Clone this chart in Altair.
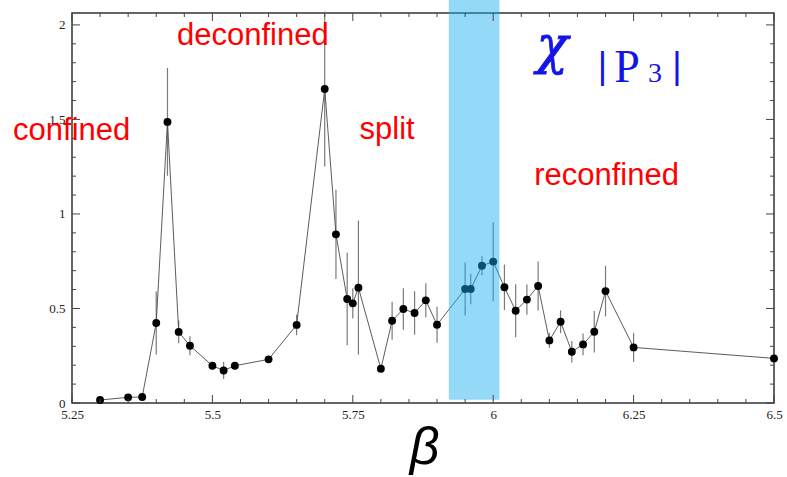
import altair as alt
import pandas as pd

# Measured susceptibility of |P3| versus the coupling beta
beta = [5.30, 5.35, 5.375, 5.40, 5.42, 5.44, 5.46, 5.50, 5.52, 5.54, 5.60, 5.65,
        5.70, 5.72, 5.74, 5.75, 5.76, 5.80, 5.82, 5.84, 5.86, 5.88, 5.90, 5.95,
        5.96, 5.98, 6.00, 6.02, 6.04, 6.06, 6.08, 6.10, 6.12, 6.14, 6.16, 6.18,
        6.20, 6.25, 6.50]
chi = [0.016, 0.030, 0.032, 0.423, 1.487, 0.376, 0.303, 0.197, 0.172, 0.197, 0.231, 0.413,
       1.661, 0.892, 0.550, 0.527, 0.610, 0.181, 0.435, 0.497, 0.476, 0.543, 0.414, 0.603,
       0.603, 0.726, 0.748, 0.612, 0.488, 0.547, 0.619, 0.331, 0.430, 0.271, 0.310, 0.377,
       0.592, 0.294, 0.236]
err = [0.006, 0.010, 0.010, 0.167, 0.285, 0.060, 0.050, 0.020, 0.045, 0.020, 0.015, 0.055,
       0.410, 0.236, 0.245, 0.080, 0.355, 0.015, 0.100, 0.110, 0.115, 0.090, 0.095, 0.140,
       0.080, 0.050, 0.210, 0.120, 0.140, 0.080, 0.130, 0.040, 0.060, 0.057, 0.058, 0.110,
       0.134, 0.077, 0.020]

# Highlighted beta window
band_beta = [5.921, 6.011]
band_chi = [0.017, 2.135]

# Axis ticks
x_major = [5.25, 5.5, 5.75, 6.0, 6.25, 6.5]
x_minor = [round(5.25 + 0.05 * i, 2) for i in range(26) if i % 5 != 0]
y_major = [0.0, 0.5, 1.0, 1.5, 2.0]
y_minor = [round(0.1 * i, 1) for i in range(1, 21) if i % 5 != 0]

# Phase annotations
phase_text = ["confined", "deconfined", "split", "reconfined"]
phase_x = [5.145, 5.437, 5.762, 6.073]
phase_y = [1.392, 1.894, 1.397, 1.153]

W, H = 702, 390
xs = alt.Scale(domain=[5.25, 6.5], nice=False, zero=False)
ys = alt.Scale(domain=[0, 2.063], nice=False, zero=False)
# one shared axis definition for every layer, so the layers merge into one axis pair
xa = alt.Axis(values=x_major, labelExpr="'' + datum.value", title="β")
ya = alt.Axis(values=y_major, labelExpr="'' + datum.value", title=None)


def X(field):
    return alt.X(field, scale=xs, axis=xa)


def Y(field):
    return alt.Y(field, scale=ys, axis=ya)


df = pd.DataFrame({"beta": beta, "chi": chi, "err": err})
df["lo"] = df["chi"] - df["err"]
df["hi"] = df["chi"] + df["err"]

base = alt.Chart(df)

errbars = base.mark_rule(color="#7a7a7a", strokeWidth=1.2).encode(
    x=X("beta:Q"), y=Y("lo:Q"), y2="hi:Q",
)
line = base.mark_line(color="#4a4a4a", strokeWidth=0.9).encode(
    x=X("beta:Q"), y=Y("chi:Q"),
)
points = base.mark_circle(color="black", opacity=1, size=62).encode(
    x=X("beta:Q"), y=Y("chi:Q"),
)

band = alt.Chart(pd.DataFrame({"b0": [band_beta[0]], "b1": [band_beta[1]],
                               "c0": [band_chi[0]], "c1": [band_chi[1]]})).mark_rect(
    color="#16acef", opacity=0.46, clip=False
).encode(
    x=X("b0:Q"), x2="b1:Q", y=Y("c0:Q"), y2="c1:Q",
)


def xticks(vals, length):
    d = alt.Chart(pd.DataFrame({"t": vals}))
    bottom = d.mark_rule(color="#444", strokeWidth=1).encode(
        x=X("t:Q"), y=alt.value(H), y2=alt.value(H - length))
    top = d.mark_rule(color="#444", strokeWidth=1).encode(
        x=X("t:Q"), y=alt.value(0), y2=alt.value(length))
    return bottom + top


def yticks(vals, length):
    d = alt.Chart(pd.DataFrame({"t": vals}))
    left = d.mark_rule(color="#444", strokeWidth=1).encode(
        y=Y("t:Q"), x=alt.value(0), x2=alt.value(length))
    right = d.mark_rule(color="#444", strokeWidth=1).encode(
        y=Y("t:Q"), x=alt.value(W), x2=alt.value(W - length))
    return left + right


ticks = xticks(x_major, 8) + xticks(x_minor, 4) + yticks(y_major, 8) + yticks(y_minor, 4)

phases = alt.Chart(pd.DataFrame({"t": phase_text, "x": phase_x, "y": phase_y})).mark_text(
    font="Liberation Sans", fontSize=31, color="#ff0000", align="left", baseline="alphabetic"
).encode(
    x=X("x:Q"), y=Y("y:Q"), text="t:N",
)

# chi_|P3| label, glyph by glyph
sym_text = ["χ", "|", "P", "3", "|"]
sym_x = [6.077, 6.186, 6.2155, 6.2756, 6.3186]
sym_y = [1.799, 1.720, 1.698, 1.698, 1.720]
sym_size = [52, 36, 46, 28, 36]
sym_font = ["DejaVu Serif", "Liberation Sans", "Liberation Serif", "Liberation Serif", "Liberation Sans"]
sym_style = ["italic", "normal", "normal", "normal", "normal"]
sym_stroke = [0.8, 0, 0, 0, 0]

sym_layers = []
for t, x, y, s, f, st, sw in zip(sym_text, sym_x, sym_y, sym_size, sym_font, sym_style, sym_stroke):
    sym_layers.append(
        alt.Chart(pd.DataFrame({"t": [t], "x": [x], "y": [y]})).mark_text(
            font=f, fontSize=s, fontStyle=st, fontWeight="normal", color="#1414e6",
            stroke="#1414e6", strokeWidth=sw,
            align="left", baseline="alphabetic"
        ).encode(
            x=X("x:Q"), y=Y("y:Q"), text="t:N",
        )
    )
symbol = alt.layer(*sym_layers)

chart = alt.layer(errbars, line, points, band, ticks, phases, symbol).properties(
    width=W, height=H,
    autosize=alt.AutoSizeParams(type="none"),
    padding={"left": 72, "top": 13, "right": 13, "bottom": 74},
).configure_view(
    stroke="#333", strokeWidth=1.5
).configure_axis(
    domain=False, grid=False, ticks=False, tickSize=0,
    labelFont="Liberation Serif", labelFontSize=13, labelColor="#222",
    labelFlush=False, labelOverlap=False,
).configure_axisX(
    labelPadding=5,
    titleFont="Liberation Sans", titleFontSize=52, titleFontStyle="italic",
    titleFontWeight="normal", titleColor="black",
    titleX=352, titleY=60, titleBaseline="alphabetic", titleAlign="center",
).configure_axisY(
    labelPadding=7,
)

chart.save("out.html", embed_options={"renderer": "svg", "actions": False})
